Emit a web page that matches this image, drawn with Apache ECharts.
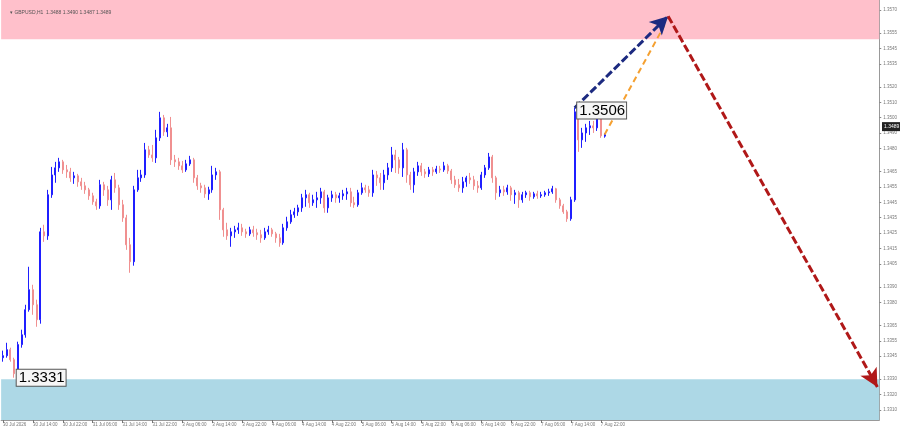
<!DOCTYPE html>
<html>
<head>
<meta charset="utf-8">
<script src="https://cdn.jsdelivr.net/npm/echarts@6/dist/echarts.min.js"></script>
<style>html,body{margin:0;padding:0;background:#fff}#c{width:900px;height:430px}</style>
</head>
<body>
<div id="c"></div>
<script>
// ---- data ----
const titleText = '\u25BE GBPUSD,H1  1.3488 1.3490 1.3487 1.3489';
const tickLabels = ['30 Jul 2026','30 Jul 14:00','30 Jul 22:00','31 Jul 06:00','31 Jul 14:00','31 Jul 22:00',
  '3 Aug 06:00','3 Aug 14:00','3 Aug 22:00','4 Aug 06:00','4 Aug 14:00','4 Aug 22:00','5 Aug 06:00',
  '5 Aug 14:00','5 Aug 22:00','6 Aug 06:00','6 Aug 14:00','6 Aug 22:00','7 Aug 06:00','7 Aug 14:00','7 Aug 22:00'];
const priceTicks = [1.3570,1.3555,1.3545,1.3535,1.3520,1.3510,1.3500,1.3490,1.3480,1.3465,1.3455,1.3445,1.3435,
  1.3425,1.3415,1.3405,1.3390,1.3380,1.3365,1.3355,1.3345,1.3330,1.3320,1.3310];
// [open, close, low, high], hourly
const candles = [
[1.33440,1.33453,1.33414,1.33486],[1.33453,1.33492,1.33440,1.33537],[1.33492,1.33427,1.33414,1.33505],[1.33427,1.33336,1.33310,1.33440],
[1.33336,1.33525,1.33323,1.33544],[1.33525,1.33589,1.33505,1.33622],[1.33589,1.33752,1.33570,1.33784],[1.33752,1.33882,1.33739,1.34031],
[1.33882,1.33784,1.33719,1.33914],[1.33784,1.33687,1.33641,1.33817],[1.33687,1.34258,1.33661,1.34284],[1.34258,1.34232,1.34193,1.34304],
[1.34232,1.34499,1.34206,1.34531],[1.34499,1.34628,1.34479,1.34680],[1.34628,1.34674,1.34577,1.34713],[1.34674,1.34713,1.34648,1.34739],
[1.34713,1.34661,1.34635,1.34726],[1.34661,1.34648,1.34609,1.34693],[1.34648,1.34609,1.34583,1.34674],[1.34609,1.34622,1.34570,1.34648],
[1.34622,1.34583,1.34551,1.34635],[1.34583,1.34557,1.34531,1.34609],[1.34557,1.34531,1.34505,1.34583],[1.34531,1.34492,1.34466,1.34544],
[1.34492,1.34453,1.34434,1.34512],[1.34453,1.34427,1.34401,1.34473],[1.34427,1.34564,1.34408,1.34596],[1.34564,1.34531,1.34492,1.34583],
[1.34531,1.34466,1.34427,1.34557],[1.34466,1.34596,1.34401,1.34622],[1.34596,1.34544,1.34512,1.34641],[1.34544,1.34434,1.34401,1.34564],
[1.34434,1.34349,1.34323,1.34466],[1.34349,1.34174,1.34141,1.34369],[1.34174,1.34064,1.33992,1.34219],[1.34064,1.34531,1.34038,1.34557],
[1.34531,1.34609,1.34518,1.34661],[1.34609,1.34628,1.34583,1.34661],[1.34628,1.34791,1.34609,1.34836],[1.34791,1.34758,1.34739,1.34817],
[1.34758,1.34739,1.34713,1.34823],[1.34739,1.34869,1.34706,1.34921],[1.34869,1.34999,1.34849,1.35038],[1.34999,1.34908,1.34882,1.35018],
[1.34908,1.34934,1.34875,1.34960],[1.34934,1.34726,1.34693,1.35005],[1.34726,1.34713,1.34680,1.34758],[1.34713,1.34687,1.34661,1.34739],
[1.34687,1.34661,1.34641,1.34719],[1.34661,1.34700,1.34648,1.34726],[1.34700,1.34726,1.34687,1.34752],[1.34726,1.34609,1.34577,1.34739],
[1.34609,1.34557,1.34531,1.34628],[1.34557,1.34544,1.34512,1.34577],[1.34544,1.34505,1.34479,1.34564],[1.34505,1.34531,1.34466,1.34551],
[1.34531,1.34628,1.34512,1.34687],[1.34628,1.34648,1.34596,1.34674],[1.34648,1.34401,1.34336,1.34661],[1.34401,1.34271,1.34226,1.34414],
[1.34271,1.34232,1.34206,1.34317],[1.34232,1.34258,1.34161,1.34284],[1.34258,1.34271,1.34219,1.34297],[1.34271,1.34284,1.34245,1.34317],
[1.34284,1.34258,1.34232,1.34310],[1.34258,1.34245,1.34219,1.34278],[1.34245,1.34271,1.34232,1.34291],[1.34271,1.34252,1.34226,1.34297],
[1.34252,1.34239,1.34206,1.34278],[1.34239,1.34219,1.34187,1.34271],[1.34219,1.34258,1.34206,1.34284],[1.34258,1.34271,1.34239,1.34297],
[1.34271,1.34245,1.34226,1.34284],[1.34245,1.34219,1.34187,1.34258],[1.34219,1.34187,1.34161,1.34245],[1.34187,1.34284,1.34174,1.34310],
[1.34284,1.34323,1.34265,1.34356],[1.34323,1.34369,1.34310,1.34401],[1.34369,1.34388,1.34349,1.34414],[1.34388,1.34414,1.34362,1.34434],
[1.34414,1.34479,1.34388,1.34505],[1.34479,1.34499,1.34421,1.34531],[1.34499,1.34447,1.34414,1.34512],[1.34447,1.34466,1.34427,1.34499],
[1.34466,1.34479,1.34414,1.34518],[1.34479,1.34518,1.34440,1.34544],[1.34518,1.34414,1.34382,1.34531],[1.34414,1.34479,1.34382,1.34499],
[1.34479,1.34499,1.34453,1.34525],[1.34499,1.34479,1.34447,1.34518],[1.34479,1.34492,1.34447,1.34512],[1.34492,1.34505,1.34466,1.34531],
[1.34505,1.34518,1.34466,1.34544],[1.34518,1.34447,1.34421,1.34544],[1.34447,1.34434,1.34414,1.34486],[1.34434,1.34512,1.34421,1.34531],
[1.34512,1.34544,1.34499,1.34577],[1.34544,1.34531,1.34512,1.34564],[1.34531,1.34512,1.34486,1.34557],[1.34512,1.34628,1.34486,1.34661],
[1.34628,1.34609,1.34557,1.34654],[1.34609,1.34577,1.34531,1.34641],[1.34577,1.34628,1.34531,1.34661],[1.34628,1.34674,1.34596,1.34706],
[1.34674,1.34758,1.34648,1.34810],[1.34758,1.34726,1.34641,1.34791],[1.34726,1.34674,1.34635,1.34745],[1.34674,1.34791,1.34615,1.34836],
[1.34791,1.34628,1.34577,1.34804],[1.34628,1.34564,1.34531,1.34648],[1.34564,1.34648,1.34512,1.34674],[1.34648,1.34687,1.34622,1.34713],
[1.34687,1.34648,1.34622,1.34706],[1.34648,1.34635,1.34609,1.34667],[1.34635,1.34661,1.34615,1.34680],[1.34661,1.34648,1.34622,1.34680],
[1.34648,1.34667,1.34635,1.34687],[1.34667,1.34661,1.34641,1.34687],[1.34661,1.34687,1.34648,1.34713],[1.34687,1.34654,1.34635,1.34700],
[1.34654,1.34596,1.34570,1.34667],[1.34596,1.34564,1.34544,1.34622],[1.34564,1.34544,1.34518,1.34602],[1.34544,1.34583,1.34512,1.34615],
[1.34583,1.34609,1.34551,1.34622],[1.34609,1.34596,1.34570,1.34641],[1.34596,1.34557,1.34531,1.34622],[1.34557,1.34544,1.34512,1.34589],
[1.34544,1.34628,1.34531,1.34648],[1.34628,1.34674,1.34609,1.34693],[1.34674,1.34745,1.34661,1.34771],[1.34745,1.34609,1.34577,1.34758],
[1.34609,1.34512,1.34466,1.34622],[1.34512,1.34531,1.34486,1.34557],[1.34531,1.34518,1.34492,1.34557],[1.34518,1.34544,1.34499,1.34564],
[1.34544,1.34499,1.34460,1.34557],[1.34499,1.34512,1.34440,1.34531],[1.34512,1.34466,1.34414,1.34525],[1.34466,1.34499,1.34447,1.34518],
[1.34499,1.34512,1.34479,1.34525],[1.34512,1.34486,1.34460,1.34525],[1.34486,1.34505,1.34473,1.34518],[1.34505,1.34492,1.34473,1.34525],
[1.34492,1.34499,1.34479,1.34518],[1.34499,1.34512,1.34486,1.34525],[1.34512,1.34518,1.34492,1.34538],[1.34518,1.34538,1.34505,1.34557],
[1.34538,1.34466,1.34447,1.34544],[1.34466,1.34427,1.34408,1.34479],[1.34427,1.34388,1.34375,1.34440],[1.34388,1.34343,1.34323,1.34401],
[1.34343,1.34466,1.34330,1.34486],[1.34466,1.35038,1.34453,1.35064],[1.35038,1.34856,1.34778,1.35051],[1.34856,1.34901,1.34804,1.34934],
[1.34901,1.34934,1.34843,1.34960],[1.34934,1.34947,1.34888,1.34979],[1.34947,1.34934,1.34901,1.34979],[1.34934,1.34999,1.34914,1.35018],
[1.34999,1.34882,1.34869,1.35025],[1.34880,1.34890,1.34870,1.34900]
];
const slotCount = 235;          // hourly slots incl. future space
const lastPrice = 1.3489;
const lowLabel = {idx: 3, price: 1.3331};
const highLabel = {idx: 153, price: 1.3506};
const sellZone = [1.3551, 1.35765];
const buyZone = [1.33035, 1.3330];
const waveNavy = [[153, 1.35064], [178, 1.3566]];
const waveOrange = [[161, 1.3489], [177, 1.3560]];
const waveRed = [[178, 1.3566], [234, 1.3325]];

// ---- chart ----
const categories = Array.from({length: slotCount}, (_, i) => 'h' + i);
const lastTick = (tickLabels.length - 1) * 8;
const showTick = (i) => i % 8 === 0 && i <= lastTick;

const chart = echarts.init(document.getElementById('c'), null, {renderer: 'canvas'});
const FONT = 'Liberation Sans';
const arrow = (pts, color, width, dash, head) => [
  {coord: pts[0], symbol: 'none', lineStyle: {color, width, type: dash}},
  {coord: pts[1], symbol: head ? 'arrow' : 'none', symbolSize: head || 0}
];
chart.setOption({
  animation: false,
  backgroundColor: '#ffffff',
  title: {text: titleText, left: 5, top: 5, textStyle: {fontSize: 5, fontWeight: 'normal', color: '#555', fontFamily: FONT}},
  grid: {left: 0, right: 19, top: 0, bottom: 10},
  xAxis: {
    type: 'category', data: categories, boundaryGap: true,
    axisLine: {lineStyle: {color: '#999', width: 1}},
    axisTick: {show: true, alignWithLabel: true, interval: (i) => showTick(i), length: 3, lineStyle: {color: '#777'}},
    axisLabel: {interval: (i) => showTick(i), formatter: (v, i) => tickLabels[i / 8] || '', align: 'left',
      fontSize: 4.5, color: '#777', margin: 2, fontFamily: FONT},
    splitLine: {show: false}
  },
  yAxis: {
    type: 'value', position: 'right', min: 1.33035, max: 1.35765, scale: true,
    axisLine: {show: true, lineStyle: {color: '#999', width: 1}},
    axisTick: {show: true, customValues: priceTicks, length: 2, lineStyle: {color: '#888'}},
    axisLabel: {customValues: priceTicks, formatter: (v) => v.toFixed(4), fontSize: 4.5, color: '#777', margin: 4, fontFamily: FONT},
    splitLine: {show: false}
  },
  series: [{
    type: 'candlestick', data: candles, barWidth: 1.5, z: 3,
    itemStyle: {color: '#1f1fff', color0: '#f09090', borderColor: '#1f1fff', borderColor0: '#f09090', borderWidth: 1},
    markArea: {
      silent: true,
      data: [
        [{yAxis: sellZone[0], itemStyle: {color: '#ffc0cb'}}, {yAxis: sellZone[1]}],
        [{yAxis: buyZone[0], itemStyle: {color: '#add8e6'}}, {yAxis: buyZone[1]}]
      ]
    },
    markLine: {
      silent: true, symbol: 'none', animation: false,
      label: {show: false},
      data: [
        arrow(waveOrange, '#f5a030', 2, [6, 4], 0),
        arrow(waveNavy, '#1c2a80', 3, [8, 3], [14, 18]),
        arrow(waveRed, '#b01818', 3, [8, 3], [14, 18])
      ]
    },
    markPoint: {
      silent: true, symbol: 'rect', symbolSize: 1, itemStyle: {color: 'rgba(0,0,0,0)'},
      label: {show: true, position: 'right', distance: 2, color: '#000', fontSize: 15, fontFamily: FONT,
        backgroundColor: '#f6f6f6', borderColor: '#555', borderWidth: 1, padding: [1, 1, 0, 2]},
      data: [
        {coord: [lowLabel.idx, lowLabel.price], label: {formatter: lowLabel.price.toFixed(4)}},
        {coord: [highLabel.idx, highLabel.price], label: {formatter: highLabel.price.toFixed(4), offset: [0, 2]}}
      ]
    }
  }]
});
// current-price tag on the price scale, positioned through the axis
const py = chart.convertToPixel({yAxisIndex: 0}, lastPrice);
const gridRight = chart.getWidth() - 19;
chart.setOption({
  graphic: [{
    type: 'text', z: 10, silent: true,
    x: gridRight + 1, y: py - 8,
    style: {text: lastPrice.toFixed(4), fill: '#fff', fontSize: 5, fontFamily: FONT,
      backgroundColor: '#222', padding: [2, 2], verticalAlign: 'middle', align: 'left'}
  }]
});
</script>
</body>
</html>
